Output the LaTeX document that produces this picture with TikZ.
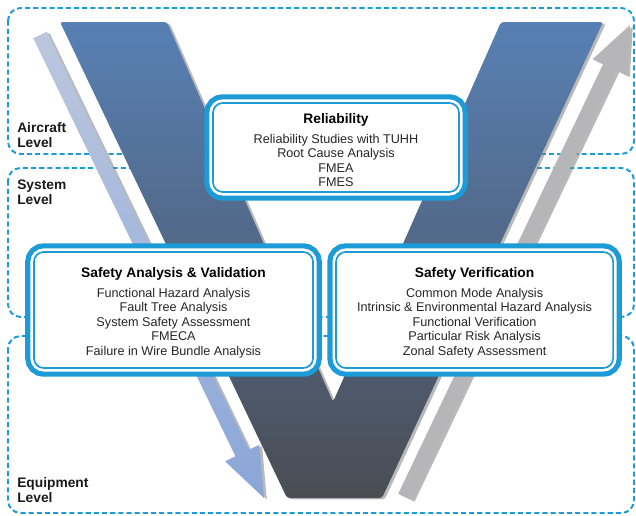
\documentclass[tikz,border=0pt]{standalone}
\usepackage{fontspec}
\setmainfont{Liberation Sans}
\usetikzlibrary{positioning,shadows}
\definecolor{vblue}{RGB}{28,155,215}
\definecolor{vtop}{RGB}{88,128,180}
\definecolor{vbot}{RGB}{74,77,84}
\definecolor{downtop}{RGB}{188,199,222}
\definecolor{downbot}{RGB}{138,166,216}
\definecolor{upgray}{RGB}{182,182,185}
\tikzstyle{level} = [draw=vblue, dash pattern=on 3.6pt off 2.2pt, line width=1.4pt, rounded corners=9pt]
\tikzstyle{levellabel} = [anchor=west, align=left, inner sep=0pt, text=black!90, font=\fontsize{9.8}{10.7}\selectfont\bfseries]
\tikzstyle{panel} = [rectangle, rounded corners=7pt, fill=white, draw=vblue, line width=1.2pt, align=center, inner sep=0pt, outer sep=0pt, text=black!85, font=\fontsize{9}{10.3}\selectfont, preaction={draw=vblue, line width=12.4pt}, preaction={draw=white, line width=5pt}]
\tikzstyle{vshadow} = [drop shadow={shadow xshift=2pt, shadow yshift=-1pt, opacity=0.55}]
\newcommand{\paneltitle}[1]{{\rule{0pt}{11pt}\fontsize{9.8}{10.3}\selectfont\bfseries\color{black}#1}\\[3.8pt]}

\begin{document}
\begin{tikzpicture}[x=0.025cm,y=-0.025cm]
    \useasboundingbox (0,0) rectangle (636,515);
    \draw[level] (8,8) rectangle (634,154);
    \draw[level] (8,168) rectangle (634,317);
    \draw[level] (8,336) rectangle (634,513);

    \shade[vshadow, top color=vtop, bottom color=vbot, rounded corners=2pt] (60,22) -- (167,22) -- (333,402) -- (501,22) -- (603,22) -- (382,498) -- (287,498) -- cycle;
    \shade[vshadow, top color=downtop, bottom color=downbot] (33.3,38.3) -- (235.5,456.3) -- (225.1,461.3) -- (264,498) -- (259.3,444.7) -- (249,449.7) -- (46.8,31.7) -- cycle;
    \fill[vshadow, upgray] (398.2,493.8) -- (603,64.2) -- (592.6,59.2) -- (630,25) -- (627,75.6) -- (616.6,70.6) -- (411.8,500.2) -- cycle;

    \node [levellabel] (aircraft) at (17,135.5) {Aircraft\\Level};
    \node [levellabel] (system) at (17,192.5) {System\\Level};
    \node [levellabel] (equipment) at (17,490) {Equipment\\Level};

    \node [panel, minimum width=6.15cm, minimum height=2.225cm] (rel) at (336,147.5) {\paneltitle{Reliability}Reliability Studies with TUHH\\Root Cause Analysis\\FMEA\\FMES};
    \node [panel, minimum width=6.975cm, minimum height=2.9cm] (sav) at (173.5,310) {\paneltitle{Safety Analysis \& Validation}Functional Hazard Analysis\\Fault Tree Analysis\\System Safety Assessment\\FMECA\\Failure in Wire Bundle Analysis};
    \node [panel, minimum width=6.925cm, minimum height=2.9cm, right=0.575cm of sav] (sv) {\paneltitle{Safety Verification}Common Mode Analysis\\Intrinsic \& Environmental Hazard Analysis\\Functional Verification\\Particular Risk Analysis\\Zonal Safety Assessment};
\end{tikzpicture}
\end{document}
